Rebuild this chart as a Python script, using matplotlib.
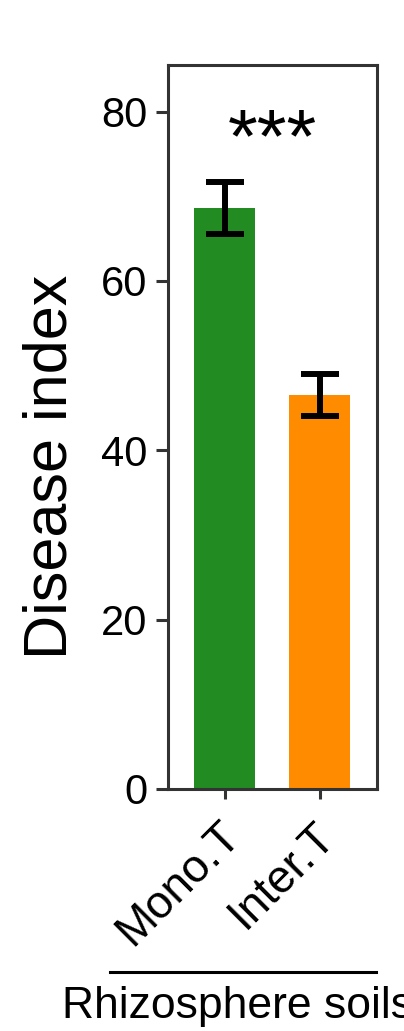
import matplotlib
matplotlib.use("Agg")
import matplotlib.pyplot as plt
from matplotlib.lines import Line2D
from matplotlib.transforms import ScaledTranslation

plt.rcParams['font.family'] = ['Liberation Sans', 'DejaVu Sans']

categories = ["Mono.T", "Inter.T"]
means = [68.6, 46.5]
errors = [3.05, 2.45]
colors = ["#228B22", "#FF8C00"]
yticks = [0, 20, 40, 60, 80]
signif = "***"
ylabel = "Disease index"
xlabel = "Rhizosphere soils"

W, H = 404, 1031
fig = plt.figure(figsize=(W / 100, H / 100), dpi=100)
ax = fig.add_axes([167.5 / W, 1 - 789 / H, (377 - 167.5) / W, (789 - 65) / H])

x = list(range(len(categories)))
ax.bar(x, means, width=0.64, color=colors, zorder=2)
ax.errorbar(x, means, yerr=errors, fmt='none', ecolor='black',
            elinewidth=4.3, capsize=13.7, capthick=4.3, zorder=3)

ax.set_xlim(-0.6, 1.6)
ax.set_ylim(0, 85.5)
ax.set_yticks(yticks)
ax.set_xticks(x)
ax.set_xticklabels(categories, rotation=45, ha='right', va='top',
                   rotation_mode='anchor', fontsize=33)
ax.tick_params(axis='y', labelsize=30, length=9, width=2.2, pad=5.5, color='#333333')
ax.tick_params(axis='x', length=7, width=2.2, pad=8.5, color='#333333')
for s in ax.spines.values():
    s.set_linewidth(2.2)
    s.set_color('#333333')
for lab in ax.get_xticklabels():
    lab.set_transform(lab.get_transform() + ScaledTranslation(-0.07, -0.03, fig.dpi_scale_trans))

ax.text(0.5, 74.1, signif, ha='center', va='baseline', fontsize=55)

fig.text(67 / W, 1 - 467 / H, ylabel, rotation=90, ha='center', va='baseline',
         rotation_mode='anchor', fontsize=44)
fig.add_artist(Line2D([110 / W, 376 / W], [1 - 971.7 / H, 1 - 971.7 / H],
                      color='black', linewidth=2.2))
fig.text(62 / W, 1 - 1018 / H, xlabel, ha='left', va='baseline', fontsize=32)

fig.savefig("out.png", dpi=100)
